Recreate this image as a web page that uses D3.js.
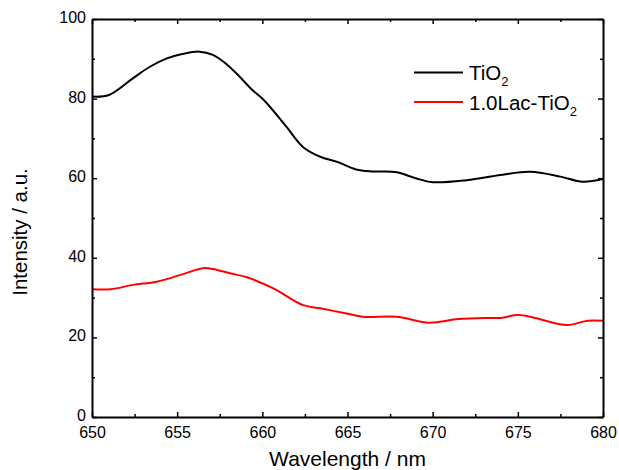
<!DOCTYPE html>
<html>
<head>
<meta charset="utf-8">
<script src="https://cdn.jsdelivr.net/npm/d3@7"></script>
<style>
  html, body { margin: 0; padding: 0; background: #fff; }
  svg { display: block; font-family: "Liberation Sans", Arial, sans-serif; }
</style>
</head>
<body>
<svg id="chart" width="619" height="470"></svg>
<script>
// Wavelength (nm) and intensity readings for each sample
const tio2Wavelength = [650, 651, 652.4, 653.4, 654.4, 655.3, 656.3, 657.1, 657.8, 658.6, 659.4, 660.1, 661.4, 662.4, 663.4, 664.4, 665.5, 666.5, 667.9, 669, 670, 672, 674, 675.7, 677.5, 678.8, 680];
const tio2Intensity  = [80.5, 80.9, 85.1, 88.0, 90.1, 91.2, 91.8, 91.0, 89.0, 85.8, 82.2, 79.6, 73.0, 67.8, 65.4, 64.1, 62.2, 61.7, 61.5, 60.0, 59.0, 59.5, 60.8, 61.6, 60.4, 59.1, 59.8];

const lacWavelength = [650, 651.1, 652.4, 653.8, 655.2, 656.5, 657.1, 658.1, 659.1, 660.65, 662.4, 663.4, 664.95, 665.9, 667.9, 669.8, 671.5, 673.1, 674, 675, 675.9, 677.9, 679.1, 680];
const lacIntensity  = [32.1, 32.1, 33.2, 34.0, 35.7, 37.4, 37.2, 36.1, 35.1, 32.3, 28.1, 27.3, 26.0, 25.2, 25.2, 23.7, 24.6, 24.9, 24.9, 25.6, 25.0, 23.1, 24.2, 24.2];

const xTicks = [650, 655, 660, 665, 670, 675, 680];
const yTicks = [0, 20, 40, 60, 80, 100];

const svg = d3.select("#chart");
const plotLeft = 92, plotRight = 603, plotTop = 19, plotBottom = 417;

const x = d3.scaleLinear().domain([650, 680]).range([plotLeft, plotRight]);
const y = d3.scaleLinear().domain([0, 100]).range([plotBottom, plotTop]);

const xMinor = d3.range(652.5, 680, 5);
const yMinor = d3.range(10, 100, 20);

// Curves
const line = d3.line().curve(d3.curveCatmullRom.alpha(0.5));
const series = [
  { xs: tio2Wavelength, ys: tio2Intensity, color: "#000000" },
  { xs: lacWavelength, ys: lacIntensity, color: "#ff0000" }
];
const plot = svg.append("g");
plot.append("clipPath").attr("id", "clip")
  .append("rect").attr("x", plotLeft).attr("y", plotTop).attr("width", plotRight - plotLeft).attr("height", plotBottom - plotTop);
series.forEach(s => {
  plot.append("path")
    .attr("clip-path", "url(#clip)")
    .attr("d", line(s.xs.map((v, i) => [x(v), y(s.ys[i])])))
    .attr("fill", "none")
    .attr("stroke", s.color)
    .attr("stroke-width", 2)
    .attr("stroke-linejoin", "round");
});

// Axes with inward ticks on all four sides
const majorLen = 5, minorLen = 3;
const axisBottom = d3.axisBottom(x).tickValues(xTicks).tickSizeInner(-majorLen).tickSizeOuter(0).tickPadding(9.5).tickFormat(d3.format("d"));
const axisTop = d3.axisTop(x).tickValues(xTicks).tickSizeInner(-majorLen).tickSizeOuter(0).tickFormat("");
const axisLeft = d3.axisLeft(y).tickValues(yTicks).tickSizeInner(-majorLen).tickSizeOuter(0).tickPadding(6).tickFormat(d3.format("d"));
const axisRight = d3.axisRight(y).tickValues(yTicks).tickSizeInner(-majorLen).tickSizeOuter(0).tickFormat("");

const minorB = d3.axisBottom(x).tickValues(xMinor).tickSize(-minorLen).tickFormat("");
const minorT = d3.axisTop(x).tickValues(xMinor).tickSize(-minorLen).tickFormat("");
const minorL = d3.axisLeft(y).tickValues(yMinor).tickSize(-minorLen).tickFormat("");
const minorR = d3.axisRight(y).tickValues(yMinor).tickSize(-minorLen).tickFormat("");

function styleAxis(g) {
  g.selectAll("path.domain").attr("stroke", "#000").attr("stroke-width", 2);
  g.selectAll(".tick line").attr("stroke", "#000").attr("stroke-width", 1.5);
  g.selectAll(".tick text").attr("fill", "#000").style("font-size", "16px").style("font-family", "'Liberation Sans', Arial, sans-serif");
}

[[minorB, `translate(0,${plotBottom})`], [minorT, `translate(0,${plotTop})`], [minorL, `translate(${plotLeft},0)`], [minorR, `translate(${plotRight},0)`]]
  .forEach(([ax, tr]) => {
    const g = svg.append("g").attr("transform", tr).call(ax);
    g.select("path.domain").remove();
    styleAxis(g);
  });

[[axisBottom, `translate(0,${plotBottom})`], [axisTop, `translate(0,${plotTop})`], [axisLeft, `translate(${plotLeft},0)`], [axisRight, `translate(${plotRight},0)`]]
  .forEach(([ax, tr], i) => {
    const g = svg.append("g").attr("transform", tr).call(ax);
    styleAxis(g);
    if (i === 2) g.selectAll(".tick text").attr("dy", "0.22em");
  });

// Axis titles
svg.append("text")
  .attr("x", (plotLeft + plotRight) / 2).attr("y", 465.5)
  .attr("text-anchor", "middle")
  .style("font-size", "21px")
  .text("Wavelength / nm");

svg.append("text")
  .attr("transform", `translate(27,${(plotTop + plotBottom) / 2 + 14}) rotate(-90)`)
  .attr("text-anchor", "middle")
  .style("font-size", "20.5px")
  .text("Intensity / a.u.");

// Legend
const legend = [
  { name: "TiO", color: "#000000", ly: 72.5, ty: 79.5 },
  { name: "1.0Lac-TiO", color: "#ff0000", ly: 102, ty: 110 }
];
legend.forEach(l => {
  svg.append("line")
    .attr("x1", 414).attr("x2", 463)
    .attr("y1", l.ly).attr("y2", l.ly)
    .attr("stroke", l.color).attr("stroke-width", 2);
  const t = svg.append("text").attr("x", 469).attr("y", l.ty).style("font-size", "20.5px");
  t.append("tspan").text(l.name);
  t.append("tspan").attr("dy", 6).style("font-size", "13px").text("2");
});
</script>
</body>
</html>
